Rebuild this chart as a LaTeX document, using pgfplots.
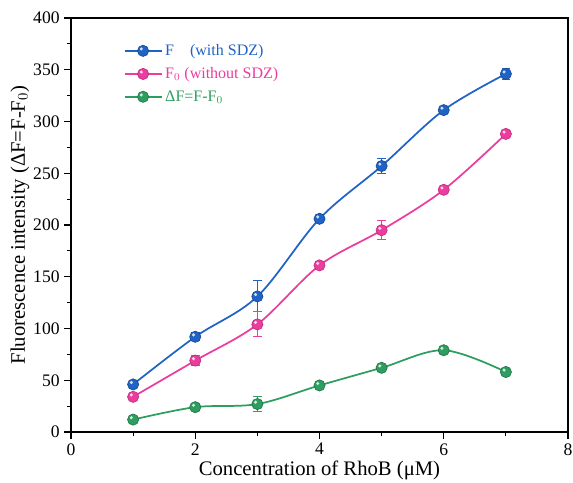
\documentclass[border=0pt]{standalone}
\usepackage{fontspec}
\setmainfont{Liberation Serif}
\usepackage{pgfplots}
\pgfplotsset{compat=1.18}

\definecolor{cF}{RGB}{31,99,198}
\definecolor{cFz}{RGB}{236,60,158}
\definecolor{cD}{RGB}{46,158,96}

% filled circle with a small highlight, as a glossy bead
\pgfdeclareplotmark{bead}{%
  \pgfpathcircle{\pgfpointorigin}{\pgfplotmarksize}%
  \pgfusepathqfillstroke
  \pgfscope
    \pgfsetfillopacity{0.8}%
    \pgfsetfillcolor{white}%
    \pgfpathcircle{\pgfpoint{-0.32\pgfplotmarksize}{0.34\pgfplotmarksize}}{0.3\pgfplotmarksize}%
    \pgfusepathqfill
  \endpgfscope}

\begin{document}
\begin{tikzpicture}
\begin{axis}[
  name=ax,
  scale only axis,
  width=372.75pt, height=310.5pt,
  xmin=0, xmax=8, ymin=0, ymax=400,
  xtick={0,2,...,8},
  minor x tick num=1,
  ytick={0,50,...,400},
  minor y tick num=1,
  axis line style={line width=0.9pt},
  tick style={line width=0.8pt, black},
  tick align=outside,
  xtick pos=bottom, ytick pos=left,
  major tick length=5pt, minor tick length=3pt,
  tick label style={font=\fontsize{13.2}{15}\selectfont},
  /pgf/number format/assume math mode=true,
  xlabel={Concentration of RhoB (μM)},
  ylabel={Fluorescence intensity (ΔF=F-F$_0$)},
  label style={font=\fontsize{15.5}{18}\selectfont},
  x label style={at={(axis description cs:0.5,-0.092)}, anchor=center},
  y label style={at={(axis description cs:-0.103,0.5)}, anchor=center, rotate=0},
  legend style={draw=none, fill=none, at={(0.1,0.95)}, anchor=north west,
    font=\fontsize{12}{14}\selectfont, row sep=3.5pt, inner xsep=2pt},
  legend cell align=left,
  legend image code/.code={%
    \draw[mark repeat=2, mark phase=2]
      plot coordinates {(0cm,0cm) (0.49cm,0cm) (0.98cm,0cm)};},
  every axis plot/.append style={line width=1.3pt, smooth, tension=0.55},
  error bars/error bar style={line width=0.7pt},
  error bars/error mark options={rotate=90, mark size=3.2pt, line width=0.7pt},
]
% F, with SDZ
\addplot[cF, mark=bead, mark size=4.2pt,
  mark options={fill=cF, draw=cF!75!black, line width=0.5pt},
  error bars/.cd, y dir=both, y explicit]
  coordinates {
  (1,46) +- (0,2)
  (2,92) +- (0,4)
  (3,131) +- (0,15)
  (4,206) +- (0,2)
  (5,257) +- (0,7)
  (6,311) +- (0,2)
  (7,346) +- (0,5)
};
\addlegendentry[text=cF]{F\quad (with SDZ)}
% F0, without SDZ
\addplot[cFz, mark=bead, mark size=4.2pt,
  mark options={fill=cFz, draw=cFz!80!black, line width=0.5pt},
  error bars/.cd, y dir=both, y explicit]
  coordinates {
  (1,34) +- (0,3)
  (2,69) +- (0,5)
  (3,104) +- (0,12)
  (4,161) +- (0,2)
  (5,195) +- (0,9)
  (6,234) +- (0,2)
  (7,288) +- (0,2)
};
\addlegendentry[text=cFz]{F$_0$ (without SDZ)}
% difference
\addplot[cD, mark=bead, mark size=4.2pt,
  mark options={fill=cD, draw=cD!75!black, line width=0.5pt},
  error bars/.cd, y dir=both, y explicit]
  coordinates {
  (1,12) +- (0,2)
  (2,24) +- (0,3)
  (3,27) +- (0,7)
  (4,45) +- (0,2)
  (5,62) +- (0,2)
  (6,79) +- (0,2)
  (7,58) +- (0,2)
};
\addlegendentry[text=cD]{ΔF=F-F$_0$}
\end{axis}
\pgfresetboundingbox
\path ([xshift=-53.25pt,yshift=-37.5pt]ax.south west)
  rectangle ([xshift=3.75pt,yshift=13.5pt]ax.north east);
\end{tikzpicture}
\end{document}
